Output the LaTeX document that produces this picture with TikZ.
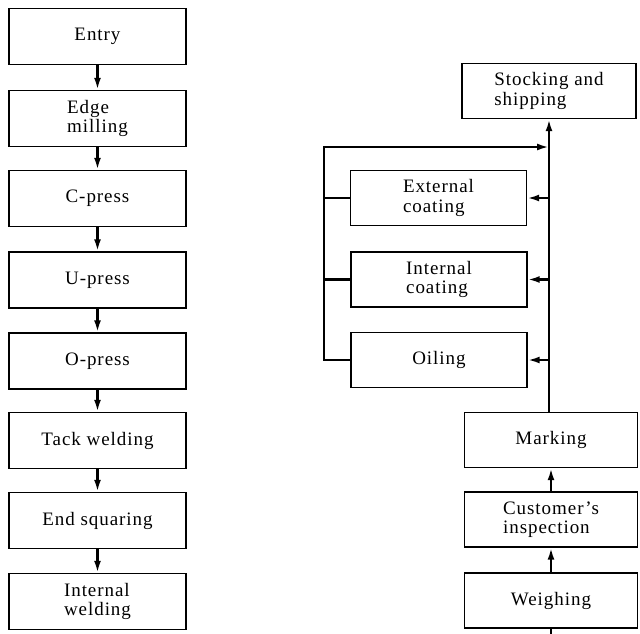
\documentclass[tikz,border=0pt]{standalone}
\usepackage{fontspec}
\setmainfont{Liberation Serif}[LetterSpace=5]
\usetikzlibrary{arrows.meta}
\tikzset{
  box/.style={draw, line width=1.4pt, minimum width=177pt, minimum height=56pt,
    align=left, font=\fontsize{19}{19.5}\selectfont, inner sep=2pt},
  rbox/.style={box, minimum width=174pt, minimum height=55pt},
  conn/.style={line width=2.3pt, -{Latex[length=12pt,width=7pt]}},
  plain/.style={line width=2.3pt}
}
\begin{document}
\begin{tikzpicture}[x=1pt,y=-1pt]
\useasboundingbox (0,0) rectangle (640,633);
% left column
\node[box] (entry) at (97.5,36.5) {Entry};
\node[box] (edge) at (97.5,118.5) {Edge\\milling};
\node[box] (cpress) at (97.5,198.5) {C-press};
\node[box] (upress) at (97.5,280) {U-press};
\node[box] (opress) at (97.5,361) {O-press};
\node[box] (tack) at (97.5,440.5) {Tack welding};
\node[box] (endsq) at (97.5,520.5) {End squaring};
\node[box] (intw) at (97.5,601.5) {Internal\\welding};
\foreach \a/\b in {entry/edge,edge/cpress,cpress/upress,upress/opress,opress/tack,tack/endsq,endsq/intw}
  \draw[conn] (\a) -- (\b);
% right column
\node[rbox] (stock) at (549,91) {Stocking and\\shipping};
\node[rbox, minimum width=176pt] (extc) at (438.5,198) {External\\coating};
\node[rbox, minimum width=176pt] (intc) at (439,279.5) {Internal\\coating};
\node[rbox, minimum width=176pt] (oil) at (439,360) {Oiling};
\node[rbox, minimum width=173pt] (mark) at (551,440) {Marking};
\node[rbox, minimum width=173pt] (cust) at (551,519.5) {Customer's\\inspection};
\node[rbox, minimum width=173pt] (weigh) at (551,600.5) {Weighing};
\coordinate (trunk) at (549,0);
\coordinate (loopx) at (324,0);
\coordinate (loopy) at (0,147);
\coordinate (below) at (551,640);
\draw[plain] (below) -- (weigh.south);
\draw[conn] (weigh) -- (cust);
\draw[conn] (cust) -- (mark);
\draw[conn] (mark.north -| trunk) -- (stock.south -| trunk);
\foreach \b in {extc,intc,oil}
  \draw[conn] (\b.east -| trunk) -- (\b.east);
\draw[plain] (extc.west) -- (extc.west -| loopx);
\draw[plain] (intc.west) -- (intc.west -| loopx);
\draw[conn] (oil.west) -- (oil.west -| loopx) -- (loopx |- loopy) -- (trunk |- loopy);
\end{tikzpicture}
\end{document}
